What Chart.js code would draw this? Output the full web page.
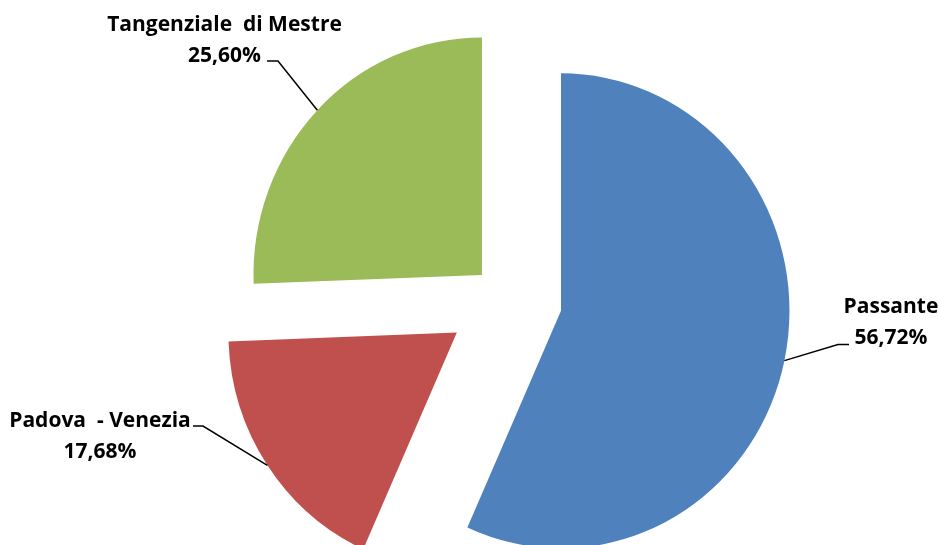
<!DOCTYPE html>
<html>
<head>
<meta charset="utf-8">
<script src="https://cdn.jsdelivr.net/npm/chart.js@4.4.1/dist/chart.umd.min.js"></script>
<style>
  html, body { margin: 0; padding: 0; background: #fff; overflow: hidden; }
  #wrap { width: 939px; height: 545px; position: relative; }
</style>
</head>
<body>
<div id="wrap"><canvas id="chart-pie-traffic"></canvas></div>
<script>
// share of traffic by road section (%)
const roadNames = ['Passante', 'Padova  - Venezia', 'Tangenziale  di Mestre'];
const trafficShare = [56.72, 17.68, 25.60];
const sliceColors = ['#4F81BD', '#C0504D', '#9BBB59'];

// how far each slice is pulled away from the centre (px)
const explode = [59, 61, 34];
// pie is drawn slightly narrower than it is tall
const squeezeX = 0.962;

// text centre, first baseline, and the two points of the leader line next to the text
const labelLayout = [
  { x: 891, y: 312.5, lead: [[849, 344.5], [838, 344.5]] },
  { x: 100, y: 427, lead: [[193, 426], [203, 426]] },
  { x: 224.5, y: 31, lead: [[267, 61], [278, 61]] }
];

function formatShare(v) {
  return v.toFixed(2).replace('.', ',') + '%';
}

// point on the outer edge of an exploded slice, at its middle angle
function edgePoint(arc, i) {
  const a = (arc.startAngle + arc.endAngle) / 2;
  const d = explode[i] + arc.outerRadius;
  return [arc.x + Math.cos(a) * d * squeezeX, arc.y + Math.sin(a) * d];
}

// draws each arc pulled out along its middle angle
const explodedPie = {
  id: 'explodedPie',
  beforeDatasetDraw(chart, args) {
    const ctx = chart.ctx;
    args.meta.data.forEach((arc, i) => {
      const a = (arc.startAngle + arc.endAngle) / 2;
      ctx.save();
      ctx.translate(arc.x, arc.y);
      ctx.scale(squeezeX, 1);
      ctx.translate(-arc.x + Math.cos(a) * explode[i], -arc.y + Math.sin(a) * explode[i]);
      arc.draw(ctx);
      ctx.restore();
    });
    return false;
  }
};

// category name + percentage with a leader line to the slice
const sliceLabels = {
  id: 'sliceLabels',
  afterDatasetsDraw(chart) {
    const ctx = chart.ctx;
    const meta = chart.getDatasetMeta(0);
    const values = chart.data.datasets[0].data;
    ctx.save();
    ctx.strokeStyle = '#000';
    ctx.lineWidth = 1.5;
    meta.data.forEach((arc, i) => {
      const lay = labelLayout[i];
      const end = edgePoint(arc, i);
      ctx.beginPath();
      ctx.moveTo(lay.lead[0][0], lay.lead[0][1]);
      ctx.lineTo(lay.lead[1][0], lay.lead[1][1]);
      ctx.lineTo(end[0], end[1]);
      ctx.stroke();
    });
    ctx.fillStyle = '#000';
    ctx.font = 'bold 21px "Open Sans"';
    ctx.textAlign = 'center';
    ctx.textBaseline = 'alphabetic';
    meta.data.forEach((arc, i) => {
      const lay = labelLayout[i];
      ctx.fillText(chart.data.labels[i], lay.x, lay.y);
      ctx.fillText(formatShare(values[i]), lay.x, lay.y + 31);
    });
    ctx.restore();
  }
};

const pieElement = document.getElementById('chart-pie-traffic');
new Chart(pieElement.getContext('2d'), {
  type: 'pie',
  data: {
    labels: roadNames,
    datasets: [{
      data: trafficShare,
      backgroundColor: sliceColors,
      borderWidth: 0,
      offset: 0,
      hoverOffset: 0
    }]
  },
  options: {
    responsive: true,
    maintainAspectRatio: false,
    animation: false,
    events: [],
    radius: 237.5,
    layout: { padding: { left: 72, top: 52, right: 0, bottom: 0 } },
    plugins: {
      legend: { display: false },
      tooltip: { enabled: false }
    }
  },
  plugins: [explodedPie, sliceLabels]
});
</script>
</body>
</html>
